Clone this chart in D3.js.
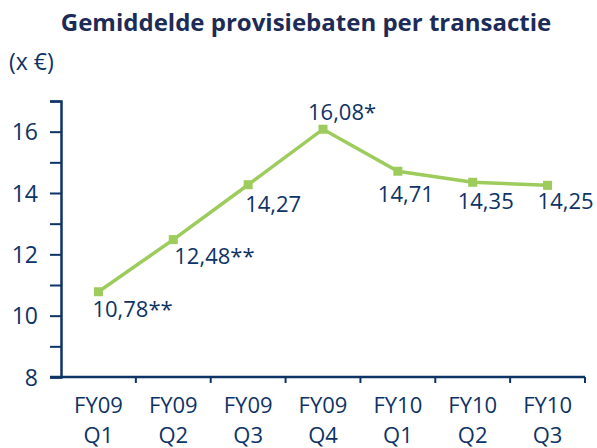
<!DOCTYPE html>
<html>
<head>
<meta charset="utf-8">
<script src="https://cdn.jsdelivr.net/npm/d3@7"></script>
<style>
  body { margin: 0; background: #fff; }
  svg text { font-family: "Open Sans", sans-serif; }
</style>
</head>
<body>
<div id="chart"></div>
<script>
// Data
const categories = ["FY09 Q1", "FY09 Q2", "FY09 Q3", "FY09 Q4", "FY10 Q1", "FY10 Q2", "FY10 Q3"];
const values = [10.78, 12.48, 14.27, 16.08, 14.71, 14.35, 14.25];
const valueLabels = ["10,78**", "12,48**", "14,27", "16,08*", "14,71", "14,35", "14,25"];
const yTicks = [8, 10, 12, 14, 16];

// Label placement (dx, dy from the point)
const labelOffsets = [[-6, 25], [1, 24], [-3, 27], [-15, -9], [-20, 31], [-15, 27], [-10, 24]];

const W = 597, H = 448;
const margin = { top: 101, right: 12, bottom: 71, left: 61 };
const navy = "#0e3365";
const green = "#9dcb5c";

const svg = d3.select("#chart").append("svg")
    .attr("width", W)
    .attr("height", H);

// Title
svg.append("text")
    .attr("x", 306).attr("y", 31)
    .attr("text-anchor", "middle")
    .style("font-size", "24px")
    .style("font-weight", "bold")
    .style("fill", "#1d2b57")
    .text("Gemiddelde provisiebaten per transactie");

svg.append("text")
    .attr("x", 9).attr("y", 70)
    .style("font-size", "23px")
    .style("fill", navy)
    .text("(x €)");

// Scales
const xScale = d3.scaleBand()
    .domain(categories)
    .range([margin.left, W - margin.right]);

const yScale = d3.scaleLinear()
    .domain([8, 17])
    .range([H - margin.bottom, margin.top]);

// Y axis
const yAxis = svg.append("g")
    .attr("transform", `translate(${margin.left},0)`)
    .call(d3.axisLeft(yScale)
        .tickValues(d3.range(8, 18))
        .tickSize(11)
        .tickPadding(12)
        .tickFormat(d => yTicks.includes(d) ? d : ""));

// X axis
const xAxis = svg.append("g")
    .attr("transform", `translate(0,${H - margin.bottom})`)
    .call(d3.axisBottom(xScale).tickSize(0).tickFormat(""));

// category boundary ticks
xAxis.selectAll(".bound")
    .data(categories)
    .enter().append("line")
    .attr("class", "bound")
    .attr("x1", d => xScale(d) + xScale.bandwidth())
    .attr("x2", d => xScale(d) + xScale.bandwidth())
    .attr("y1", 0).attr("y2", 6)
    .attr("stroke", navy)
    .attr("stroke-width", 2);

xAxis.select(".domain")
    .attr("d", `M${margin.left - 11},0H${W - margin.right}`);

// category labels on two lines
xAxis.selectAll(".cat")
    .data(categories)
    .enter().append("text")
    .attr("class", "cat")
    .attr("text-anchor", "middle")
    .attr("transform", d => `translate(${xScale(d) + xScale.bandwidth() / 2},0)`)
    .style("font-size", "22px")
    .style("fill", navy)
    .selectAll("tspan")
    .data(d => d.split(" "))
    .enter().append("tspan")
    .attr("x", 0)
    .attr("y", (d, i) => 36 + i * 30)
    .text(d => d);

[yAxis, xAxis].forEach(g => {
    g.select(".domain").attr("stroke", navy).attr("stroke-width", 2.5);
    g.selectAll(".tick line").attr("stroke", navy).attr("stroke-width", 2);
    g.selectAll(".tick text")
        .style("font-size", "23px")
        .style("fill", navy);
});
yAxis.selectAll(".tick text").attr("dy", "0.36em");

// Line
const line = d3.line()
    .x((d, i) => xScale(categories[i]) + xScale.bandwidth() / 2)
    .y(d => yScale(d));

svg.append("path")
    .datum(values)
    .attr("fill", "none")
    .attr("stroke", green)
    .attr("stroke-width", 3.5)
    .attr("d", line);

svg.selectAll(".marker")
    .data(values)
    .enter().append("rect")
    .attr("class", "marker")
    .attr("x", (d, i) => xScale(categories[i]) + xScale.bandwidth() / 2 - 4.5)
    .attr("y", d => yScale(d) - 4.5)
    .attr("width", 9)
    .attr("height", 9)
    .attr("fill", green);

// Value labels
svg.selectAll(".vlabel")
    .data(values)
    .enter().append("text")
    .attr("class", "vlabel")
    .attr("x", (d, i) => xScale(categories[i]) + xScale.bandwidth() / 2 + labelOffsets[i][0])
    .attr("y", (d, i) => yScale(d) + labelOffsets[i][1])
    .style("font-size", "22px")
    .style("fill", navy)
    .text((d, i) => valueLabels[i]);
</script>
</body>
</html>
